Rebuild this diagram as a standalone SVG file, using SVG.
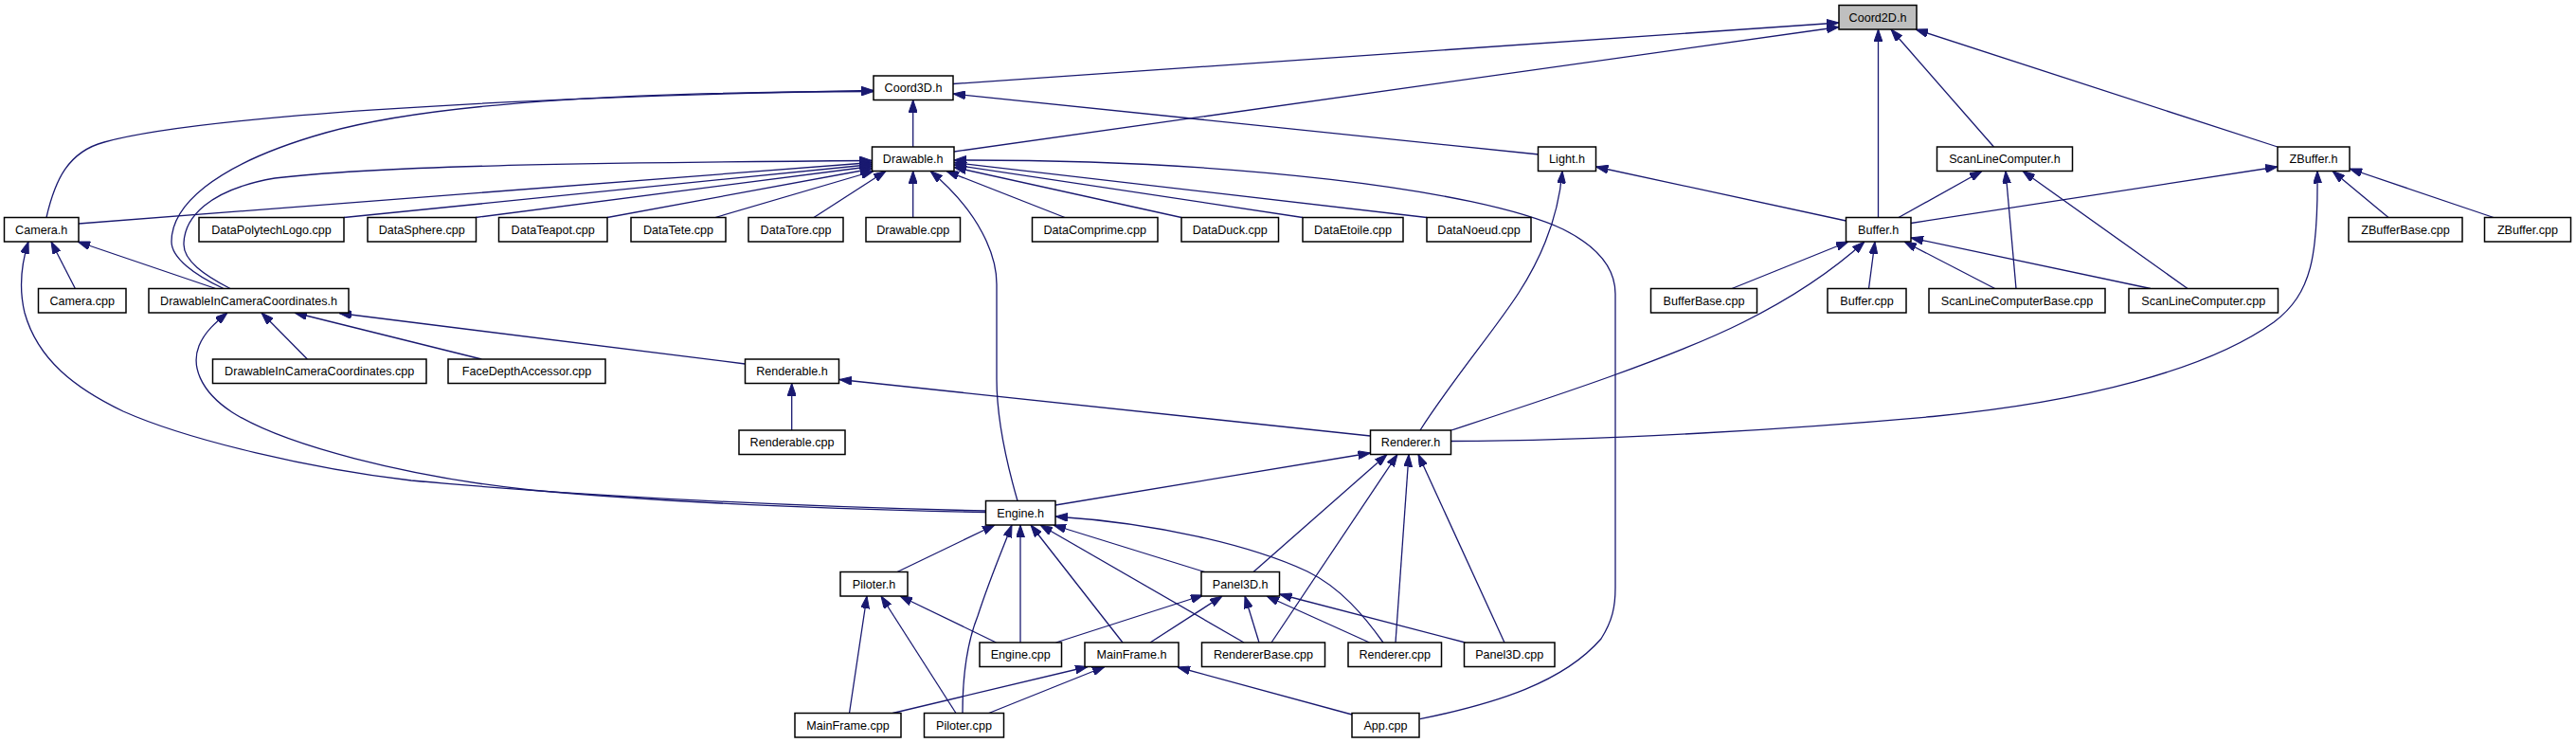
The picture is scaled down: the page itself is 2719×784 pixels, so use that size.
<svg xmlns="http://www.w3.org/2000/svg" width="2719" height="784" viewBox="0 0 2719 784">
<style>
.n rect{fill:#fff;stroke:#000;stroke-width:1.5}
.n text{font-family:"Liberation Sans",Arial,Helvetica,sans-serif;font-size:12.6px;fill:#000;text-anchor:middle}
#g-coord2d rect{fill:#bfbfbf}
.e path{fill:none;stroke:#191970;stroke-width:1.3;marker-end:url(#ah)}
</style>
<defs>
<marker id="ah" viewBox="0 0 13 9" refX="13" refY="4.5" markerWidth="13" markerHeight="9" markerUnits="userSpaceOnUse" orient="auto"><path d="M0,0 L13,4.5 L0,9 z" fill="#191970" stroke="#191970" stroke-width="1"/></marker>
</defs>
<rect x="0" y="0" width="2719" height="784" fill="#fff"/>
<g id="edges" class="e">
<path d="M1006,88.5 L1941,24"/>
<path d="M1007,160 L1941,28.5"/>
<path d="M1982.5,229.5 L1982.5,31"/>
<path d="M2104.5,155 L1996,31"/>
<path d="M2404,155 L2022,31"/>
<path d="M49,229.5 C58,190 72,160 110,150 C200,125 500,103 922,95.5"/>
<path d="M236,304.5 C205,290 181,272 181,255 C181,220 220,175 344,140 C468,105 700,97 922,96.5"/>
<path d="M963.7,155 L963.7,105.5"/>
<path d="M1624.5,163 L1006,99"/>
<path d="M83,236 L920.5,171.5"/>
<path d="M243,304.5 C215,290 194,275 194,258 C194,230 220,200 290,188 C400,175 600,172 920.5,169.5"/>
<path d="M363,229.5 L920.5,173.5"/>
<path d="M502,229.5 L920.5,175.5"/>
<path d="M641,229.5 L920.5,178"/>
<path d="M755,229.5 L922,180.5"/>
<path d="M859,229.5 L935,180.5"/>
<path d="M963.7,229.5 L963.7,180.5"/>
<path d="M1124,229.5 L999,180.5"/>
<path d="M1247,229.5 L1007,176.5"/>
<path d="M1375,229.5 L1007,174"/>
<path d="M1506,229.5 L1007,171.5"/>
<path d="M1074,528.5 C1060,480 1052,440 1052,400 L1052,300 C1052,270 1035,225 982,180.5"/>
<path d="M1498.8,758.7 C1580,742 1650,720 1690,674 C1702,655 1705,640 1705,620 L1705,310 C1705,285 1690,262 1650,242 C1560,200 1300,168 1007,169"/>
<path d="M1948.5,233 L1684.5,176"/>
<path d="M1499,454 C1530,405 1580,345 1603,309 C1625,275 1645,230 1649,180.5"/>
<path d="M2004,229.5 L2092,180.5"/>
<path d="M2128,304.5 L2117,180.5"/>
<path d="M2309,304.5 L2135,180.5"/>
<path d="M2017,235.5 L2404,176"/>
<path d="M2521,229.5 L2462,180.5"/>
<path d="M2632,229.5 L2480,178"/>
<path d="M1531.7,465.5 C1700,465 1900,452 2040,439.5 C2200,424 2330,390 2400,340 C2440,310 2447,270 2446,180.5"/>
<path d="M79.4,304.5 L54,255"/>
<path d="M227.7,304.5 L82,255"/>
<path d="M1040.5,539 C850,535 620,524 434,507 C330,495 200,465 130,434 C80,410 40,380 26,330 C20,305 22,280 30,255"/>
<path d="M1828,304.5 L1951,255"/>
<path d="M1531.7,454 C1620,425 1760,380 1840,340 C1890,315 1935,285 1968,255"/>
<path d="M1972.5,304.5 L1979,255"/>
<path d="M2105.7,304.5 L2010,255"/>
<path d="M2270,304.5 L2017,251"/>
<path d="M324.4,379 L276,330"/>
<path d="M508.3,379 L311,330"/>
<path d="M786.5,384 L358,330.5"/>
<path d="M1040.5,540.5 C850,537 680,528 560,517 C430,503 300,470 245,435 C210,412 202,385 210,365 C216,350 228,340 240,330"/>
<path d="M835.7,454 L835.7,404.5"/>
<path d="M1446.5,460 L886,400.5"/>
<path d="M1114,533 L1446.5,478"/>
<path d="M1323,603.5 L1464,479.5"/>
<path d="M1342,678 L1475,479.5"/>
<path d="M1473,678 L1487,479.5"/>
<path d="M1588,678 L1497,479.5"/>
<path d="M947,603.5 L1050,554"/>
<path d="M1016,752.5 C1016,720 1020,680 1032,650 C1045,610 1058,580 1068,554"/>
<path d="M1077,678 L1077,554"/>
<path d="M1185,678 L1088,554"/>
<path d="M1313,678 L1098,554"/>
<path d="M1271.5,603.5 L1112,554"/>
<path d="M1460,678 C1440,650 1415,620 1380,603 C1320,575 1220,552 1114,545"/>
<path d="M896.5,752.5 L915,629"/>
<path d="M1009,752.5 L930,629"/>
<path d="M1051.5,678 L950,629"/>
<path d="M1114.5,678 L1270,628"/>
<path d="M1214,678 L1290,629"/>
<path d="M1329,678 L1314,629"/>
<path d="M1445.5,678 L1337,629"/>
<path d="M1546.5,678 L1350.5,627"/>
<path d="M942.3,752.5 L1148,703.5"/>
<path d="M1043.7,752.5 L1166,703.5"/>
<path d="M1427,754 L1243,704"/>
</g>
<g id="g-coord2d" class="n"><rect x="1941" y="5.5" width="82" height="25.5"/><text x="1982" y="22.5">Coord2D.h</text></g>
<g id="g-coord3d" class="n"><rect x="922" y="80" width="84" height="25.5"/><text x="964" y="97">Coord3D.h</text></g>
<g id="g-drawable-h" class="n"><rect x="920.5" y="155" width="86.5" height="25.5"/><text x="963.7" y="172">Drawable.h</text></g>
<g id="g-light-h" class="n"><rect x="1623.5" y="155" width="61" height="25.5"/><text x="1654" y="172">Light.h</text></g>
<g id="g-slc-h" class="n"><rect x="2044.5" y="155" width="143" height="25.5"/><text x="2116" y="172">ScanLineComputer.h</text></g>
<g id="g-zbuffer-h" class="n"><rect x="2404" y="155" width="76" height="25.5"/><text x="2442" y="172">ZBuffer.h</text></g>
<g id="g-camera-h" class="n"><rect x="4.5" y="229.5" width="78.5" height="25.5"/><text x="43.7" y="246.5">Camera.h</text></g>
<g id="g-datapolytechlogo" class="n"><rect x="210" y="229.5" width="153" height="25.5"/><text x="286.5" y="246.5">DataPolytechLogo.cpp</text></g>
<g id="g-datasphere" class="n"><rect x="388" y="229.5" width="114.5" height="25.5"/><text x="445.2" y="246.5">DataSphere.cpp</text></g>
<g id="g-datateapot" class="n"><rect x="526.5" y="229.5" width="114.5" height="25.5"/><text x="583.7" y="246.5">DataTeapot.cpp</text></g>
<g id="g-datatete" class="n"><rect x="666" y="229.5" width="100" height="25.5"/><text x="716" y="246.5">DataTete.cpp</text></g>
<g id="g-datatore" class="n"><rect x="790" y="229.5" width="100" height="25.5"/><text x="840" y="246.5">DataTore.cpp</text></g>
<g id="g-drawable-cpp" class="n"><rect x="914" y="229.5" width="99.5" height="25.5"/><text x="963.7" y="246.5">Drawable.cpp</text></g>
<g id="g-datacomprime" class="n"><rect x="1089.5" y="229.5" width="132.5" height="25.5"/><text x="1155.7" y="246.5">DataComprime.cpp</text></g>
<g id="g-dataduck" class="n"><rect x="1247" y="229.5" width="102.5" height="25.5"/><text x="1298.2" y="246.5">DataDuck.cpp</text></g>
<g id="g-dataetoile" class="n"><rect x="1375" y="229.5" width="106" height="25.5"/><text x="1428" y="246.5">DataEtoile.cpp</text></g>
<g id="g-datanoeud" class="n"><rect x="1506" y="229.5" width="110" height="25.5"/><text x="1561" y="246.5">DataNoeud.cpp</text></g>
<g id="g-buffer-h" class="n"><rect x="1948.5" y="229.5" width="68.5" height="25.5"/><text x="1982.7" y="246.5">Buffer.h</text></g>
<g id="g-zbufferbase" class="n"><rect x="2479" y="229.5" width="120" height="25.5"/><text x="2539" y="246.5">ZBufferBase.cpp</text></g>
<g id="g-zbuffer-cpp" class="n"><rect x="2622.5" y="229.5" width="91" height="25.5"/><text x="2668" y="246.5">ZBuffer.cpp</text></g>
<g id="g-camera-cpp" class="n"><rect x="40.5" y="304.5" width="92.5" height="25.5"/><text x="86.7" y="321.5">Camera.cpp</text></g>
<g id="g-dicc-h" class="n"><rect x="157" y="304.5" width="211" height="25.5"/><text x="262.5" y="321.5">DrawableInCameraCoordinates.h</text></g>
<g id="g-bufferbase" class="n"><rect x="1742.5" y="304.5" width="112" height="25.5"/><text x="1798.5" y="321.5">BufferBase.cpp</text></g>
<g id="g-buffer-cpp" class="n"><rect x="1929" y="304.5" width="83" height="25.5"/><text x="1970.5" y="321.5">Buffer.cpp</text></g>
<g id="g-slcbase" class="n"><rect x="2036" y="304.5" width="186" height="25.5"/><text x="2129" y="321.5">ScanLineComputerBase.cpp</text></g>
<g id="g-slc-cpp" class="n"><rect x="2247" y="304.5" width="157.5" height="25.5"/><text x="2325.7" y="321.5">ScanLineComputer.cpp</text></g>
<g id="g-dicc-cpp" class="n"><rect x="224.5" y="379" width="225.5" height="25.5"/><text x="337.2" y="396">DrawableInCameraCoordinates.cpp</text></g>
<g id="g-facedepth" class="n"><rect x="473" y="379" width="166" height="25.5"/><text x="556" y="396">FaceDepthAccessor.cpp</text></g>
<g id="g-renderable-h" class="n"><rect x="786.5" y="379" width="99" height="25.5"/><text x="836" y="396">Renderable.h</text></g>
<g id="g-renderable-cpp" class="n"><rect x="780" y="454" width="112" height="25.5"/><text x="836" y="471">Renderable.cpp</text></g>
<g id="g-renderer-h" class="n"><rect x="1446.5" y="454" width="85" height="25.5"/><text x="1489" y="471">Renderer.h</text></g>
<g id="g-engine-h" class="n"><rect x="1040.5" y="528.5" width="73.5" height="25.5"/><text x="1077.2" y="545.5">Engine.h</text></g>
<g id="g-piloter-h" class="n"><rect x="887" y="603.5" width="71" height="25.5"/><text x="922.5" y="620.5">Piloter.h</text></g>
<g id="g-panel3d-h" class="n"><rect x="1268" y="603.5" width="82.5" height="25.5"/><text x="1309.2" y="620.5">Panel3D.h</text></g>
<g id="g-engine-cpp" class="n"><rect x="1034" y="678" width="86.5" height="25.5"/><text x="1077.2" y="695">Engine.cpp</text></g>
<g id="g-mainframe-h" class="n"><rect x="1145" y="678" width="99" height="25.5"/><text x="1194.5" y="695">MainFrame.h</text></g>
<g id="g-rendererbase" class="n"><rect x="1268.5" y="678" width="130" height="25.5"/><text x="1333.5" y="695">RendererBase.cpp</text></g>
<g id="g-renderer-cpp" class="n"><rect x="1423" y="678" width="98.5" height="25.5"/><text x="1472.2" y="695">Renderer.cpp</text></g>
<g id="g-panel3d-cpp" class="n"><rect x="1545.5" y="678" width="95.5" height="25.5"/><text x="1593.2" y="695">Panel3D.cpp</text></g>
<g id="g-mainframe-cpp" class="n"><rect x="839" y="752.5" width="112" height="25.5"/><text x="895" y="769.5">MainFrame.cpp</text></g>
<g id="g-piloter-cpp" class="n"><rect x="975.5" y="752.5" width="84" height="25.5"/><text x="1017.5" y="769.5">Piloter.cpp</text></g>
<g id="g-app-cpp" class="n"><rect x="1427" y="752.5" width="71" height="25.5"/><text x="1462.5" y="769.5">App.cpp</text></g>
</svg>
